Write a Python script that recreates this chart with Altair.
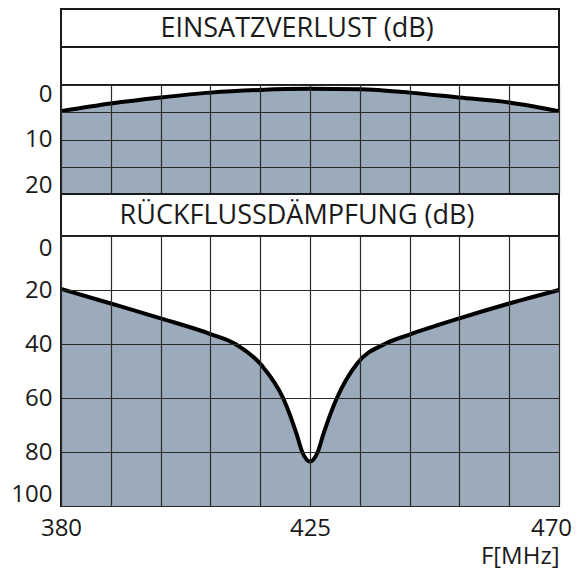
import altair as alt
import pandas as pd

# ---------------- data ----------------
freq_il = [380, 389, 398, 407, 416, 425, 434, 443, 452, 461, 470]
il_db = [4.8, 3.4, 2.3, 1.4, 0.9, 0.7, 0.8, 1.4, 2.3, 3.2, 4.8]

freq_rl = [380, 389, 398, 407, 411.5, 416.3, 420.2, 422.6, 423.6, 425,
           426.4, 427.4, 429.8, 433.6, 438.5, 443, 452, 461, 470]
rl_db = [19.6, 25, 30.5, 36.3, 40, 48, 60.3, 73.5, 80, 83.5,
         80, 73.5, 60.3, 47, 40, 36.5, 30.5, 25, 20]

grid_x = [380, 389, 398, 407, 416, 425, 434, 443, 452, 461, 470]
x_labels = [380, 425, 470]
top_grid_y = [0, 5, 10, 15, 20]
top_labels = [0, 10, 20]
bot_grid_y = [0, 20, 40, 60, 80, 100]

title_top = "EINSATZVERLUST (dB)"
title_bottom = "RÜCKFLUSSDÄMPFUNG (dB)"
x_title = "F[MHz]"

# ---------------- styling ----------------
W = 498
FILL = "#9BABBB"
FONT = "Open Sans"
INK = "#1a1a1a"
GRID = "#2a2a2a"

il_df = pd.DataFrame({"f": freq_il, "db": il_db})
rl_df = pd.DataFrame({"f": freq_rl, "db": rl_db})

x_scale = alt.Scale(domain=[380, 470], nice=False, zero=False)


def title_panel(text, h):
    return alt.Chart(pd.DataFrame({"t": [text]})).mark_text(
        font=FONT, fontSize=27, color=INK, align="center", baseline="middle"
    ).encode(
        text="t:N", x=alt.value(236), y=alt.value(h / 2 + 1)
    ).properties(width=W, height=h)


blank = alt.Chart(pd.DataFrame({"a": [0]})).mark_point(opacity=0, size=1).encode(
    x=alt.value(10), y=alt.value(10)
).properties(width=W, height=38)

# top plot
top_x = alt.X("f:Q", scale=x_scale,
              axis=alt.Axis(values=grid_x, grid=True, labels=False, ticks=False,
                            domain=False, title=None, gridColor=GRID,
                            gridOpacity=1, gridWidth=1.2, zindex=1))
top_y = alt.Y("db:Q", scale=alt.Scale(domain=[0, 20], reverse=True, nice=False),
              axis=alt.Axis(values=top_grid_y, grid=True, ticks=False, domain=False,
                            title=None, gridColor=GRID, gridOpacity=1, gridWidth=1.2,
                            labelExpr="datum.value % 10 == 0 ? datum.label : ''",
                            labelFont=FONT, labelFontSize=24, labelColor=INK,
                            labelPadding=9, labelFlush=True, labelFlushOffset=3,
                            zindex=1))
top_base = alt.Chart(il_df).encode(x=top_x, y=top_y)
top_area = top_base.mark_area(color=FILL, opacity=1, interpolate="monotone").encode(
    y2=alt.datum(20))
top_line = top_base.mark_line(color="black", strokeWidth=4, interpolate="monotone")
top_plot = alt.layer(top_area, top_line).properties(width=W, height=109)

# bottom plot
bot_x = alt.X("f:Q", scale=x_scale,
              axis=alt.Axis(values=grid_x, grid=True, ticks=False, domain=False,
                            title=x_title, titleAnchor="end", titleAlign="right",
                            titleFont=FONT, titleFontSize=24, titleFontWeight="normal",
                            titleColor=INK, titlePadding=4,
                            labelExpr="indexof([380,425,470], datum.value) >= 0 ? datum.label : ''",
                            labelFont=FONT, labelFontSize=24, labelColor=INK,
                            labelPadding=10, labelFlush=False, labelOverlap=False,
                            labelOffset={"condition": {"test": "datum.value === 470", "value": -8},
                                         "value": 0},
                            gridColor=GRID, gridOpacity=1, gridWidth=1.2, zindex=1))
bot_y = alt.Y("db:Q", scale=alt.Scale(domain=[0, 100], reverse=True, nice=False),
              axis=alt.Axis(values=bot_grid_y, grid=True, ticks=False, domain=False,
                            title=None, gridColor=GRID, gridOpacity=1, gridWidth=1.2,
                            labelFont=FONT, labelFontSize=24, labelColor=INK,
                            labelPadding=9, labelFlush=True, zindex=1))
bot_base = alt.Chart(rl_df).encode(x=bot_x, y=bot_y)
bot_area = bot_base.mark_area(color=FILL, opacity=1, interpolate="monotone").encode(
    y2=alt.datum(100))
bot_line = bot_base.mark_line(color="black", strokeWidth=4, interpolate="monotone")
bot_plot = alt.layer(bot_area, bot_line).properties(width=W, height=270)

chart = alt.vconcat(
    title_panel(title_top, 38),
    blank,
    top_plot,
    title_panel(title_bottom, 42),
    bot_plot,
    spacing=0,
    bounds="flush",
).properties(
    padding={"left": 1, "top": 0, "right": 2, "bottom": 0}
).configure(
    background="white"
).configure_view(
    stroke=INK, strokeWidth=2
)

chart.save("out.html", embed_options={"renderer": "svg", "actions": False})
